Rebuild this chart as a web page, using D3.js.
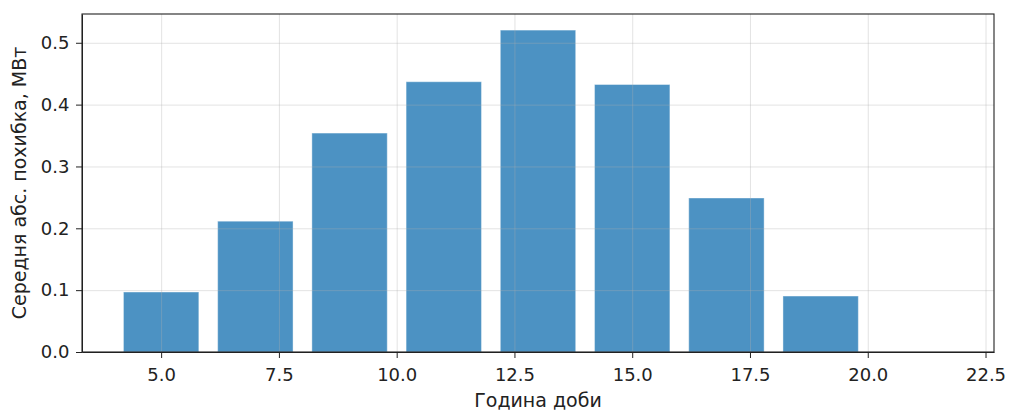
<!DOCTYPE html>
<meta charset="utf-8">
<style>
body { margin: 0; background: #fff; }
svg text { font-family: "DejaVu Sans", sans-serif; }
.axis path, .axis line { stroke: #222; }
.axis text { fill: #222; font-size: 18px; font-family: "DejaVu Sans", sans-serif; }
.grid line { stroke: #b0b0b0; stroke-opacity: 0.35; }
.grid path { display: none; }
.bar { fill: #1f77b4; fill-opacity: 0.8; stroke: #ffffff; stroke-opacity: 0.4; stroke-width: 1; }
.label { fill: #222; font-size: 19px; }
</style>
<svg width="1009" height="410"></svg>
<script src="https://d3js.org/d3.v7.min.js"></script>
<script>
var hours = [5, 7, 9, 11, 13, 15, 17, 19, 21];
var mae = [0.097, 0.2115, 0.354, 0.437, 0.5205, 0.4325, 0.249, 0.0905, 0];
var xTicks = [5, 7.5, 10, 12.5, 15, 17.5, 20, 22.5];
var yTicks = [0, 0.1, 0.2, 0.3, 0.4, 0.5];
var barWidth = 1.6;

var svg = d3.select("svg"),
    margin = {top: 14, right: 15, bottom: 58, left: 82},
    width = 1009 - margin.left - margin.right,
    height = 410 - margin.top - margin.bottom,
    g = svg.append("g").attr("transform", "translate(" + margin.left + "," + margin.top + ")");

var data = hours.map(function(h, i) { return {hour: h, value: mae[i]}; });

// matplotlib-style autoscale: 5% margins
var xmin = d3.min(hours) - barWidth / 2, xmax = d3.max(hours) + barWidth / 2,
    pad = (xmax - xmin) * 0.05;
var x = d3.scaleLinear().domain([xmin - pad, xmax + pad]).range([0, width]);
var y = d3.scaleLinear().domain([0, d3.max(mae) * 1.05]).range([height, 0]);

g.selectAll(".bar")
    .data(data)
  .enter().append("rect")
    .attr("class", "bar")
    .attr("x", function(d) { return x(d.hour - barWidth / 2); })
    .attr("width", function(d) { return x(d.hour + barWidth / 2) - x(d.hour - barWidth / 2); })
    .attr("y", function(d) { return y(d.value); })
    .attr("height", function(d) { return height - y(d.value); })
    .style("display", function(d) { return d.value > 0 ? null : "none"; });

// grid sits over the bars, like in the original
g.append("g")
    .attr("class", "grid")
    .attr("transform", "translate(0," + height + ")")
    .call(d3.axisBottom(x).tickValues(xTicks).tickSize(-height).tickFormat(""));

g.append("g")
    .attr("class", "grid")
    .call(d3.axisLeft(y).tickValues(yTicks).tickSize(-width).tickFormat(""));

g.append("g")
    .attr("class", "axis")
    .attr("transform", "translate(0," + height + ")")
    .call(d3.axisBottom(x).tickValues(xTicks).tickSize(6).tickPadding(10).tickSizeOuter(0)
      .tickFormat(d3.format(".1f")));

g.append("g")
    .attr("class", "axis")
    .call(d3.axisLeft(y).tickValues(yTicks).tickSize(6).tickPadding(6.5).tickSizeOuter(0)
      .tickFormat(d3.format(".1f")));

g.append("rect")
    .attr("width", width)
    .attr("height", height)
    .attr("fill", "none")
    .attr("stroke", "#222")
    .attr("stroke-width", 1.1);

g.append("text")
    .attr("class", "label")
    .attr("x", width / 2)
    .attr("y", height + 55)
    .attr("text-anchor", "middle")
    .text("Година доби");

g.append("text")
    .attr("class", "label")
    .attr("transform", "rotate(-90)")
    .attr("x", -height / 2)
    .attr("y", -56)
    .attr("text-anchor", "middle")
    .text("Середня абс. похибка, МВт");
</script>
